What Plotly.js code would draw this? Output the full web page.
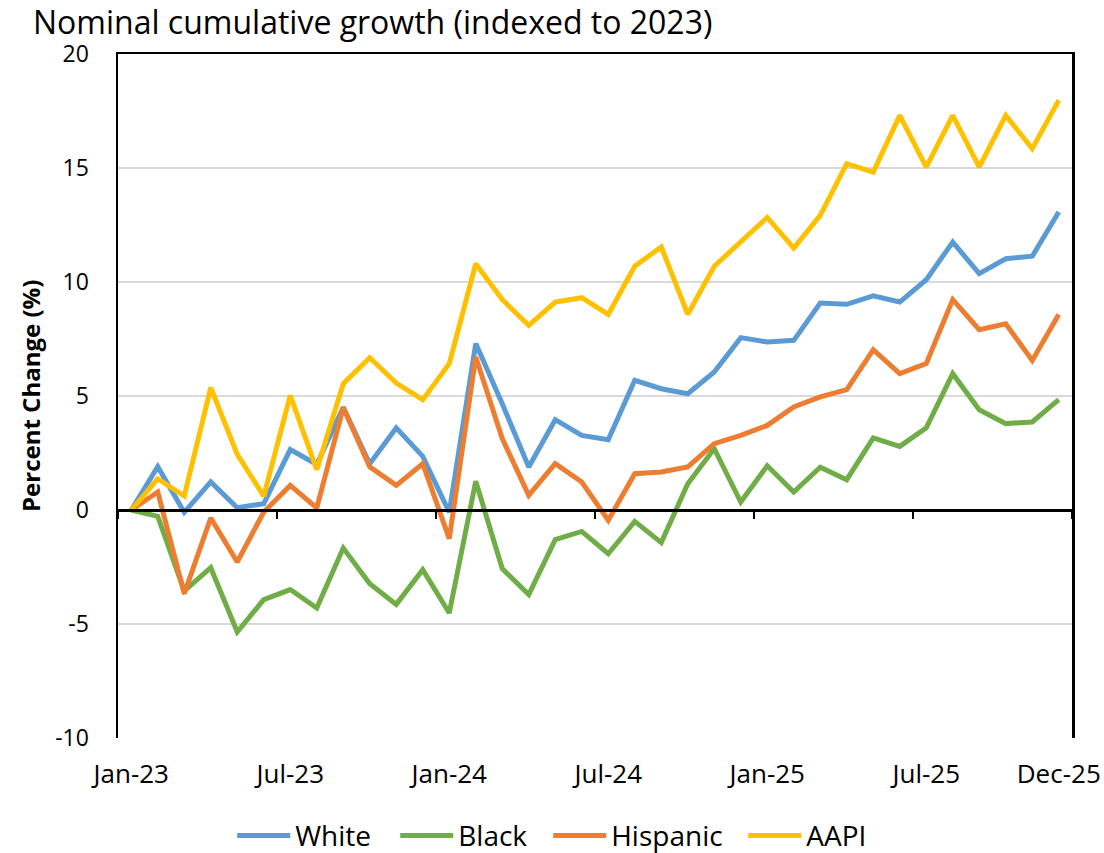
<!DOCTYPE html>
<html>
<head>
<meta charset="utf-8">
<script src="https://cdn.plot.ly/plotly-3.0.1.min.js"></script>
<style>html,body{margin:0;padding:0;background:#fff;}#chart{width:1104px;height:853px;}</style>
</head>
<body>
<div id="chart"></div>
<script>
// Monthly categories Jan-23 .. Dec-25 (36 months)
const months = ["Jan-23","Feb-23","Mar-23","Apr-23","May-23","Jun-23","Jul-23","Aug-23","Sep-23","Oct-23","Nov-23","Dec-23",
                "Jan-24","Feb-24","Mar-24","Apr-24","May-24","Jun-24","Jul-24","Aug-24","Sep-24","Oct-24","Nov-24","Dec-24",
                "Jan-25","Feb-25","Mar-25","Apr-25","May-25","Jun-25","Jul-25","Aug-25","Sep-25","Oct-25","Nov-25","Dec-25"];
const xTickLabels = ["Jan-23","Jul-23","Jan-24","Jul-24","Jan-25","Jul-25","Dec-25"];
const xTickMonths = [0, 6, 12, 18, 24, 30, 35];
const yTickValues = [-10, -5, 0, 5, 10, 15, 20];
const yTickLabels = ["-10", "-5", "0", "5", "10", "15", "20"];

const white = [0, 1.9, -0.1, 1.23, 0.1, 0.28, 2.65, 2.0, 4.5, 2.03, 3.6, 2.35,
               -0.1, 7.3, 4.66, 1.89, 3.96, 3.27, 3.08, 5.69, 5.32, 5.10, 6.05, 7.56,
               7.37, 7.44, 9.08, 9.02, 9.39, 9.12, 10.1, 11.75, 10.37, 11.02, 11.13, 13.07];
const black = [0, -0.28, -3.55, -2.53, -5.35, -3.93, -3.49, -4.3, -1.67, -3.23, -4.14, -2.62,
               -4.52, 1.26, -2.57, -3.71, -1.30, -0.94, -1.92, -0.50, -1.43, 1.15, 2.69, 0.35,
               1.94, 0.79, 1.88, 1.33, 3.16, 2.79, 3.6, 5.98, 4.40, 3.79, 3.86, 4.84];
const hispanic = [0, 0.79, -3.67, -0.35, -2.28, -0.09, 1.08, 0.09, 4.49, 1.89, 1.08, 2.03,
                  -1.26, 6.71, 3.13, 0.64, 2.03, 1.23, -0.45, 1.59, 1.67, 1.89, 2.91, 3.27,
                  3.71, 4.52, 4.96, 5.28, 7.03, 5.98, 6.42, 9.23, 7.91, 8.17, 6.56, 8.58];
const aapi = [0, 1.37, 0.61, 5.37, 2.44, 0.61, 5.03, 1.77, 5.54, 6.68, 5.57, 4.84,
              6.42, 10.8, 9.23, 8.1, 9.12, 9.31, 8.58, 10.69, 11.54, 8.58, 10.69, 11.75,
              12.83, 11.49, 12.92, 15.19, 14.82, 17.31, 15.04, 17.31, 15.04, 17.31, 15.85, 17.97];

const seriesNames = ["White", "Black", "Hispanic", "AAPI"];
const seriesValues = [white, black, hispanic, aapi];

// styling (not data)
const seriesColors = ["#5B9BD5", "#70AD47", "#ED7D31", "#FFC000"];
const legendEntryWidths = [95, 85, 127, 76];

const FONT = "'Open Sans', 'Noto Sans', sans-serif";
const idx = months.map((m, i) => i);

const traces = seriesNames.map((name, k) => ({
  type: "scatter",
  mode: "lines",
  name: name,
  x: idx,
  y: seriesValues[k],
  text: months,
  legendwidth: legendEntryWidths[k],
  line: {color: seriesColors[k], width: 5},
  hovertemplate: "%{text}: %{y}<extra>" + name + "</extra>"
}));
// empty helper traces so the zero-crossing axis (with between-category ticks) and the top frame line get drawn
traces.push({type: "scatter", mode: "lines", x: [], y: [], xaxis: "x2", yaxis: "y", showlegend: false, hoverinfo: "skip"});
traces.push({type: "scatter", mode: "lines", x: [], y: [], xaxis: "x3", yaxis: "y", showlegend: false, hoverinfo: "skip"});

// tick marks sit between categories (every 6 months)
const betweenTicks = [];
for (let i = 0; i <= months.length; i += 6) betweenTicks.push(i - 0.5);

const xr = [-0.5, months.length - 0.5];

const layout = {
  width: 1104, height: 853,
  paper_bgcolor: "#fff", plot_bgcolor: "#fff",
  margin: {l: 118, r: 32, t: 54, b: 115, autoexpand: false},
  font: {family: FONT, color: "#000"},
  showlegend: true,
  title: {
    text: "Nominal cumulative growth (indexed to 2023)",
    font: {family: FONT, size: 32, color: "#000"},
    x: 33 / 1104, xanchor: "left", xref: "container",
    y: 1 - 22.5 / 853, yanchor: "middle", yref: "container"
  },
  xaxis: {
    range: xr, tickmode: "array", tickvals: xTickMonths, ticktext: xTickLabels,
    showgrid: false, zeroline: false, showline: false, ticks: "",
    tickfont: {size: 26, family: FONT}, ticklabelstandoff: 18
  },
  xaxis2: {
    overlaying: "x", anchor: "free", position: 1/3, side: "bottom",
    range: xr, tickmode: "array", tickvals: betweenTicks,
    showticklabels: false, ticks: "outside", ticklen: 7, tickwidth: 2.5, tickcolor: "#000",
    showline: true, linecolor: "#000", linewidth: 2.5, showgrid: false, zeroline: false
  },
  xaxis3: {
    overlaying: "x", anchor: "y", side: "top", range: xr,
    showticklabels: false, ticks: "", showline: true, linecolor: "#000", linewidth: 2.5,
    showgrid: false, zeroline: false
  },
  yaxis: {
    range: [-10, 20], tickmode: "array", tickvals: yTickValues, ticktext: yTickLabels,
    showline: true, mirror: true, linecolor: "#000", linewidth: 2.5,
    showgrid: true, gridcolor: "#D9D9D9", gridwidth: 1.5,
    zeroline: false, ticks: "", tickfont: {size: 23, family: FONT},
    ticklabelstandoff: 22
  },
  legend: {
    orientation: "h", x: 0.507, xanchor: "center", xref: "container",
    y: -0.143, yanchor: "middle", yref: "paper",
    font: {size: 28, family: FONT}, itemwidth: 53, traceorder: "normal"
  },
  annotations: [{
    text: "<b>Percent Change (%)</b>", textangle: -90,
    xref: "paper", yref: "paper", x: (30 - 118) / 954, y: 0.5,
    xanchor: "center", yanchor: "middle", showarrow: false,
    font: {size: 24, family: FONT, color: "#000"}
  }]
};

Plotly.newPlot("chart", traces, layout, {displayModeBar: false, staticPlot: true});
</script>
</body>
</html>
